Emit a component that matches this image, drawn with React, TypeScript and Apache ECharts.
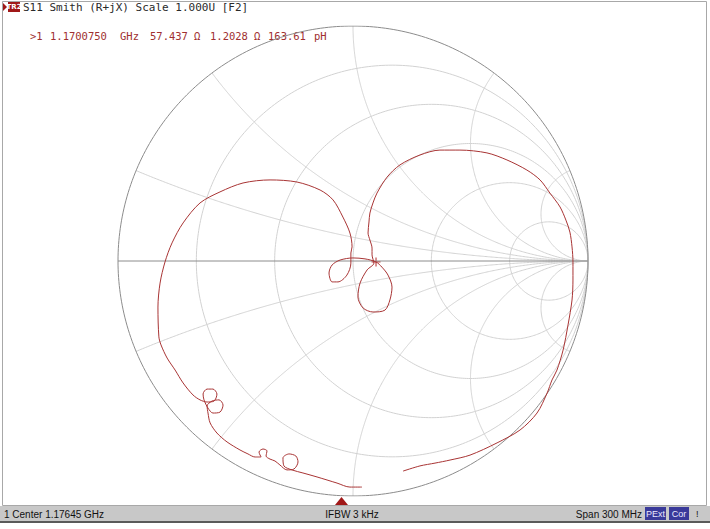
import React, { useEffect, useRef } from "react";
import * as echarts from "echarts";

// Smith chart grid values
const resistanceCircles = [0.2, 0.5, 1, 2, 5];
const reactanceArcs = [0.2, 0.5, 1, 2, 5, -0.2, -0.5, -1, -2, -5];

const traceRe = [
  0.038, -0.013, -0.068, -0.153, -0.213, -0.26, -0.294, -0.298, -0.272, -0.243, -0.234, -0.251, -0.281, -0.311,
  -0.332, -0.353, -0.37, -0.366, -0.383, -0.4, -0.391, -0.417, -0.447, -0.481, -0.536, -0.579, -0.608, -0.617,
  -0.621, -0.6, -0.57, -0.553, -0.566, -0.596, -0.617, -0.634, -0.638, -0.621, -0.596, -0.579, -0.591, -0.621,
  -0.651, -0.681, -0.723, -0.757, -0.791, -0.817, -0.826, -0.83, -0.821, -0.8, -0.77, -0.723, -0.651, -0.566,
  -0.468, -0.353, -0.238, -0.14, -0.085, -0.043, -0.013, -0.004, -0.009, -0.009, -0.026, -0.064, -0.089, -0.102,
  -0.089, -0.055, 0.0, 0.051, 0.098, 0.123, 0.149, 0.166, 0.157, 0.136, 0.085, 0.043, 0.021, 0.03, 0.06, 0.089,
  0.081, 0.081, 0.072, 0.064, 0.068, 0.072, 0.085, 0.102, 0.145, 0.2, 0.285, 0.37, 0.455, 0.57, 0.655, 0.74,
  0.796, 0.838, 0.881, 0.906, 0.923, 0.932, 0.936, 0.936, 0.932, 0.915, 0.894, 0.868, 0.847, 0.826, 0.783,
  0.711, 0.613, 0.498, 0.413, 0.349, 0.285, 0.213,
];
const traceIm = [
  -0.962, -0.962, -0.945, -0.919, -0.902, -0.889, -0.872, -0.838, -0.821, -0.83, -0.855, -0.885, -0.889, -0.868,
  -0.851, -0.843, -0.83, -0.808, -0.8, -0.813, -0.834, -0.834, -0.821, -0.804, -0.77, -0.732, -0.689, -0.647,
  -0.617, -0.596, -0.591, -0.613, -0.643, -0.647, -0.626, -0.591, -0.566, -0.545, -0.545, -0.566, -0.596, -0.6,
  -0.591, -0.57, -0.519, -0.464, -0.413, -0.357, -0.323, -0.196, -0.094, -0.004, 0.077, 0.162, 0.247, 0.294,
  0.332, 0.345, 0.336, 0.302, 0.26, 0.187, 0.119, 0.06, 0.034, -0.009, -0.06, -0.089, -0.089, -0.051, -0.017,
  0.004, 0.013, 0.009, -0.004, -0.026, -0.06, -0.111, -0.166, -0.209, -0.217, -0.2, -0.153, -0.094, -0.038,
  -0.009, 0.026, 0.055, 0.089, 0.119, 0.166, 0.204, 0.247, 0.289, 0.357, 0.409, 0.451, 0.472, 0.472, 0.46, 0.43,
  0.387, 0.345, 0.289, 0.23, 0.174, 0.123, 0.06, -0.004, -0.081, -0.166, -0.272, -0.379, -0.464, -0.506, -0.562,
  -0.647, -0.719, -0.774, -0.826, -0.847, -0.86, -0.872, -0.894,
];
const markerIndex = 74;

// Texts
const titleText = "S11 Smith (R+jX) Scale 1.000U [F2]";
const traceLabel = "TR2";
const markerTexts = [">1", "1.1700750", "GHz", "57.437", "Ω", "1.2028", "Ω", "163.61", "pH"];
const statusLeft = "1 Center 1.17645 GHz";
const statusMid = "IFBW 3 kHz";
const statusRight = "Span 300 MHz";
const statusBoxes = ["PExt", "Cor"];

function gamma(a: number, b: number): [number, number] {
  const den = (a + 1) * (a + 1) + b * b;
  return [(a * a - 1 + b * b) / den, (2 * b) / den];
}

function resistanceCircle(r: number): number[][] {
  const pts: number[][] = [];
  const c = r / (1 + r);
  const rad = 1 / (1 + r);
  for (let i = 0; i <= 360; i++) {
    const t = (i / 360) * Math.PI * 2;
    pts.push([c + rad * Math.cos(t), rad * Math.sin(t)]);
  }
  return pts;
}

function reactanceArc(x: number): number[][] {
  const pts: number[][] = [];
  for (let i = 0; i < 400; i++) {
    const th = (i / 400) * (Math.PI / 2);
    const r = Math.tan(th);
    pts.push(gamma(r, x));
  }
  pts.push([1, 0]);
  return pts;
}

export default function App() {
  const ref = useRef<HTMLDivElement>(null);
  useEffect(() => {
    if (!ref.current) return;
    const chart = echarts.init(ref.current, undefined, { renderer: "svg" });
    const gridColor = "#d2d2d2";
    const series: any[] = [];
    resistanceCircles.forEach((r) =>
      series.push({
        type: "line",
        data: resistanceCircle(r),
        showSymbol: false,
        silent: true,
        lineStyle: { color: gridColor, width: 1 },
      })
    );
    reactanceArcs.forEach((x) =>
      series.push({
        type: "line",
        data: reactanceArc(x),
        showSymbol: false,
        silent: true,
        lineStyle: { color: gridColor, width: 1 },
      })
    );
    series.push({
      type: "line",
      data: resistanceCircle(0),
      showSymbol: false,
      silent: true,
      lineStyle: { color: "#8c8c8c", width: 1 },
    });
    series.push({
      type: "line",
      data: [
        [-1, 0],
        [1, 0],
      ],
      showSymbol: false,
      silent: true,
      lineStyle: { color: "#8c8c8c", width: 1 },
    });
    const trace = traceRe.map((v, i) => [v, traceIm[i]]);
    series.push({
      type: "line",
      data: trace,
      showSymbol: false,
      smooth: 0.3,
      silent: true,
      lineStyle: { color: "#a83434", width: 1 },
    });
    series.push({
      type: "scatter",
      data: [trace[markerIndex]],
      symbol: "path://M0,5L10,5M5,0L5,10",
      symbolSize: 9,
      silent: true,
      itemStyle: { color: "none", borderColor: "#b02020", borderWidth: 1.2 },
    });

    const mono = "'DejaVu Sans Mono', monospace";
    const sans = "'Liberation Sans', Arial, sans-serif";
    const markerX = [30, 50, 120, 150, 194, 210, 254, 268, 314];
    const graphic: any[] = [
      { type: "rect", shape: { x: 2.5, y: 1.5, width: 704, height: 504 }, style: { fill: "none", stroke: "#a8a8a8", lineWidth: 1 }, silent: true },
      { type: "rect", shape: { x: 0, y: 506, width: 710, height: 15 }, style: { fill: "#c8c8c8" }, silent: true },
      { type: "rect", shape: { x: 0, y: 521, width: 710, height: 2 }, style: { fill: "#5a5a5a" }, silent: true },
      { type: "polygon", shape: { points: [[3, 3], [7, 7], [3, 11]] }, style: { fill: "#a01818" }, silent: true },
      { type: "rect", shape: { x: 8, y: 2, width: 12, height: 10 }, style: { fill: "#a01818" }, silent: true },
      { type: "text", x: 14, y: 7, style: { text: traceLabel, fill: "#ffffff", font: "bold 7px 'DejaVu Sans'", align: "center", verticalAlign: "middle" }, silent: true },
      { type: "text", x: 23, y: 7, style: { text: titleText, fill: "#2a2a2a", font: `11px ${mono}`, verticalAlign: "middle" }, silent: true },
      { type: "polygon", shape: { points: [[335, 505], [341.5, 497], [348, 505]] }, style: { fill: "#a01818" }, silent: true },
      { type: "text", x: 4, y: 514, style: { text: statusLeft, fill: "#111", font: `10px ${sans}`, verticalAlign: "middle" }, silent: true },
      { type: "text", x: 352, y: 514, style: { text: statusMid, fill: "#111", font: `10px ${sans}`, align: "center", verticalAlign: "middle" }, silent: true },
      { type: "text", x: 642, y: 514, style: { text: statusRight, fill: "#111", font: `10px ${sans}`, align: "right", verticalAlign: "middle" }, silent: true },
      { type: "rect", shape: { x: 645, y: 507, width: 21, height: 13 }, style: { fill: "#3a3a9a" }, silent: true },
      { type: "text", x: 655.5, y: 514, style: { text: statusBoxes[0], fill: "#e8e8ff", font: `9px ${sans}`, align: "center", verticalAlign: "middle" }, silent: true },
      { type: "rect", shape: { x: 669, y: 507, width: 20, height: 13 }, style: { fill: "#3a3a9a" }, silent: true },
      { type: "text", x: 679, y: 514, style: { text: statusBoxes[1], fill: "#e8e8ff", font: `9px ${sans}`, align: "center", verticalAlign: "middle" }, silent: true },
      { type: "text", x: 696, y: 514, style: { text: "!", fill: "#111", font: `9px ${sans}`, verticalAlign: "middle" }, silent: true },
    ];
    markerTexts.forEach((t, i) =>
      graphic.push({
        type: "text",
        x: markerX[i],
        y: 36,
        style: { text: t, fill: "#a03030", font: `10.5px ${mono}`, verticalAlign: "middle" },
        silent: true,
      })
    );

    chart.setOption({
      animation: false,
      backgroundColor: "#ffffff",
      grid: { left: 118, top: 26, width: 470, height: 470 },
      xAxis: { type: "value", min: -1, max: 1, show: false },
      yAxis: { type: "value", min: -1, max: 1, show: false },
      series,
      graphic,
    });
    return () => chart.dispose();
  }, []);
  return <div ref={ref} style={{ position: "fixed", left: 0, top: 0, width: 710, height: 529 }} />;
}
